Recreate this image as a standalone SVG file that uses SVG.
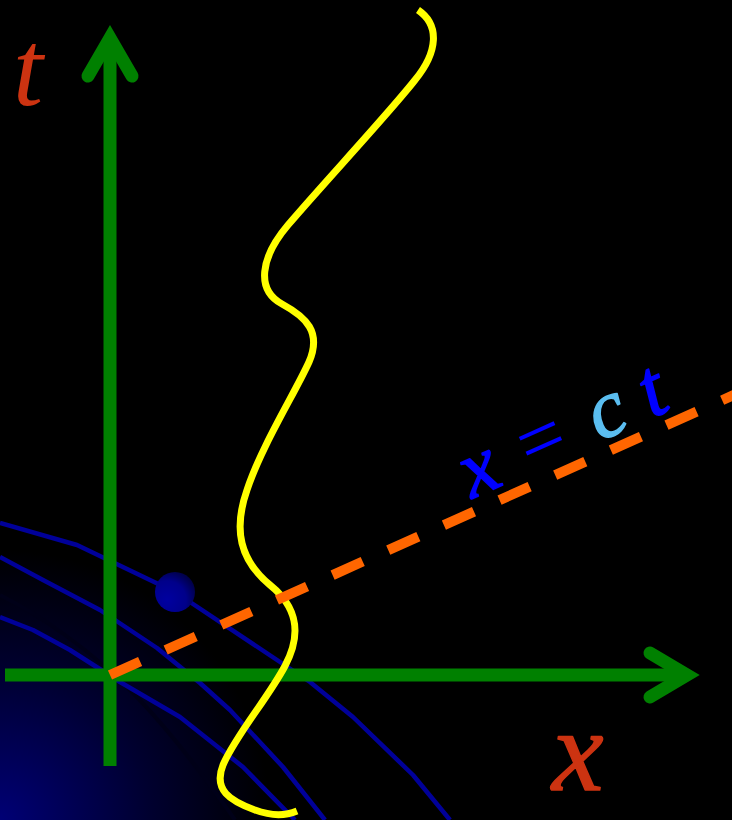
<svg xmlns="http://www.w3.org/2000/svg" width="732" height="820" viewBox="0 0 732 820">
  <defs>
    <radialGradient id="glow" cx="0" cy="820" r="270" gradientUnits="userSpaceOnUse">
      <stop offset="0" stop-color="#000075"/>
      <stop offset="0.55" stop-color="#000030"/>
      <stop offset="1" stop-color="#000000"/>
    </radialGradient>
    <radialGradient id="ball" cx="0.3" cy="0.7" r="0.8">
      <stop offset="0" stop-color="#0000a0"/>
      <stop offset="0.6" stop-color="#00008a"/>
      <stop offset="1" stop-color="#000040"/>
    </radialGradient>
    <style>
      .axis { stroke: #008000; stroke-width: 13; fill: none; }
      .head { stroke: #008000; stroke-width: 13; fill: none; stroke-linecap: round; stroke-linejoin: miter; stroke-miterlimit: 10; }
      .field { stroke: #000099; stroke-width: 4.5; fill: none; stroke-linejoin: round; }
      .faint { stroke: #000018; stroke-width: 4; fill: none; }
      .world { stroke: #ffff00; stroke-width: 7; fill: none; stroke-linecap: butt; }
      .light { stroke: #ff6600; stroke-width: 10; fill: none; stroke-dasharray: 33 28; }
      .lbl { font-family: "Liberation Serif", "DejaVu Serif", serif; font-style: italic; stroke-linejoin: round; }
    </style>
  </defs>

  <!-- backdrop -->
  <rect width="732" height="820" fill="#000"/>
  <rect width="732" height="820" fill="url(#glow)"/>

  <!-- field lines -->
  <g id="field-lines">
    <path class="faint" d="M0,595 C40,615 90,650 130,690 C165,725 200,770 235,820"/>
    <path class="field" d="M0,523 L77,545 L175,592 L310,682 L353,717 L413,775 L450,820"/>
    <path class="field" d="M0,557 L43,580 L100,610 L157,648 L200,683 L230,710 L283,767 L325,820"/>
    <path class="field" d="M0,617 L33,630 L70,650 L120,682 L180,717 L243,767 L295,820"/>
  </g>

  <!-- particle -->
  <g id="particle">
    <circle cx="175" cy="592" r="20" fill="url(#ball)"/>
  </g>

  <!-- axes -->
  <g id="axes">
    <line class="axis" x1="110" y1="766" x2="110" y2="40"/>
    <polyline class="head" points="88,76 110,38 132,76"/>
    <line class="axis" x1="5" y1="675" x2="688" y2="675"/>
    <polyline class="head" points="650,653 687,675 650,697"/>
  </g>

  <!-- world line -->
  <g id="worldline">
    <path class="world" d="M418,10 C440,25 438,52 415,80 C390,112 322,185 288,225 C260,258 256,290 282,304 C306,317 322,332 309,362 C295,393 262,445 247,490 C233,530 240,560 270,585 C296,606 303,632 285,666 C268,698 236,735 223,765 C213,790 230,801 255,810 C271,816 285,816 297,811"/>
  </g>

  <!-- light ray x = ct -->
  <g id="light-ray">
    <line class="light" x1="110" y1="675" x2="760" y2="383.2"/>
  </g>

  <!-- labels -->
  <g id="labels">
    <text class="lbl" x="13" y="105" font-size="108" fill="#cc3311">t</text>
    <text class="lbl" x="552" y="790" font-size="116" fill="#cc3311" stroke="#cc3311" stroke-width="1.5">x</text>
    <text class="lbl" transform="translate(472,499) rotate(-24.2)" font-size="82" stroke-width="1.5">
      <tspan x="0" y="0" fill="#0000ff" stroke="#0000ff">x</tspan>
      <tspan x="64" y="0" fill="#0000ff" stroke="#0000ff" stroke-width="0" font-style="normal">=</tspan>
      <tspan x="140" y="0" fill="#5bbef0" stroke="#5bbef0">c</tspan>
      <tspan x="197" y="0" fill="#0000ff" stroke="#0000ff">t</tspan>
    </text>
  </g>
</svg>
